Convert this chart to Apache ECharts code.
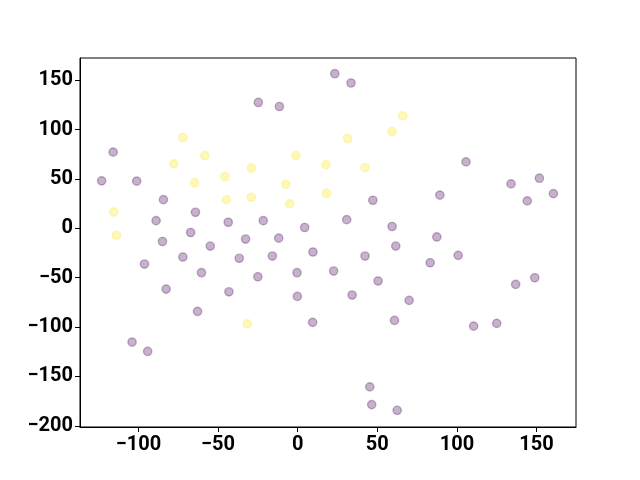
<!DOCTYPE html>
<html>
<head>
<meta charset="utf-8">
<script src="https://cdn.jsdelivr.net/npm/echarts@6/dist/echarts.min.js"></script>
<style>
  html, body { margin: 0; padding: 0; background: #fff; }
  #chart { width: 640px; height: 480px; }
</style>
</head>
<body>
<div id="chart"></div>
<script>
// class 0 points (dark purple)
const purplePoints = [
    [-115.9, 77.1], [-123.1, 48.0], [-101.1, 47.7], [-84.3, 29.0], [-88.9, 7.7],
    [-84.9, -13.4], [-96.2, -36.2], [-82.6, -61.6], [-104.0, -115.3], [-94.2, -124.7],
    [-64.2, 16.2], [-67.2, -4.3], [-72.1, -29.1], [-60.4, -45.0], [-62.9, -84.2],
    [-54.9, -18.0], [-43.6, 6.1], [-43.2, -64.3], [-36.7, -30.4], [-32.7, -10.9],
    [-24.7, 127.4], [-25.0, -49.1], [-21.6, 7.7], [-11.5, 123.3], [-11.9, -10.0],
    [-15.9, -28.1], [-0.4, -45.0], [-0.2, -69.0], [4.4, 0.8], [9.6, -24.0],
    [9.4, -95.3], [22.6, -43.3], [23.3, 156.5], [33.5, 147.1], [30.8, 8.7],
    [34.2, -67.6], [42.3, -28.1], [47.2, 28.4], [50.5, -53.4], [45.3, -160.6],
    [46.5, -178.5], [62.5, -184.3], [59.3, 1.8], [61.6, -18.0], [60.8, -93.3],
    [70.0, -73.0], [83.2, -34.9], [87.4, -8.8], [89.3, 33.5], [105.7, 67.2],
    [100.8, -27.4], [110.5, -99.1], [125.0, -96.3], [134.0, 44.9], [144.2, 27.7],
    [151.8, 50.7], [160.6, 35.1], [148.9, -50.1], [136.9, -56.8]
];

// class 1 points (yellow)
const yellowPoints = [
    [-72.1, 91.9], [-58.3, 73.6], [-77.8, 65.2], [-64.8, 45.9], [-45.7, 52.3],
    [-44.7, 28.7], [-29.1, 60.9], [-29.1, 31.4], [-115.5, 16.5], [-113.8, -7.1],
    [-31.6, -96.8], [66.0, 113.9], [59.3, 98.0], [31.4, 90.9], [-1.1, 73.6],
    [17.8, 64.5], [42.3, 61.5], [-7.4, 44.6], [-5.0, 24.9], [18.1, 35.5]
];

const xTicks = [-100, -50, 0, 50, 100, 150];
const yTicks = [-200, -150, -100, -50, 0, 50, 100, 150];

const chart = echarts.init(document.getElementById('chart'), null, { renderer: 'canvas' });

function fmt(v) {
    return String(v).replace('-', '\u2212');
}

const axisCommon = {
    type: 'value',
    scale: true,
    splitLine: { show: false },
    axisLine: { show: true, onZero: false, lineStyle: { color: '#000', width: 1 } },
    axisTick: { show: true, inside: false, length: 5, lineStyle: { color: '#000', width: 1 } },
    axisLabel: {
        color: '#000',
        fontFamily: 'Roboto',
        fontWeight: 'bold',
        fontSize: 20,
        formatter: fmt
    }
};

function dotSeries(data, color) {
    return {
        type: 'scatter',
        data: data,
        symbol: 'circle',
        symbolSize: 8.3,
        itemStyle: {
            color: color,
            borderColor: color,
            borderWidth: 1.4,
            opacity: 0.3
        },
        emphasis: { disabled: true },
        animation: false
    };
}

chart.setOption({
    animation: false,
    grid: {
        left: 80,
        right: 64,
        top: 58,
        bottom: 53,
        containLabel: false,
        outerBoundsMode: 'none',
        show: true,
        borderColor: '#000',
        borderWidth: 1,
        backgroundColor: 'transparent'
    },
    xAxis: Object.assign({}, axisCommon, {
        min: -136.7,
        max: 174.8,
        axisTick: Object.assign({}, axisCommon.axisTick, { customValues: xTicks }),
        axisLabel: Object.assign({}, axisCommon.axisLabel, { margin: 8, customValues: xTicks })
    }),
    yAxis: Object.assign({}, axisCommon, {
        min: -201.2,
        max: 172.4,
        axisTick: Object.assign({}, axisCommon.axisTick, { customValues: yTicks }),
        axisLabel: Object.assign({}, axisCommon.axisLabel, { margin: 7, customValues: yTicks })
    }),
    series: [
        dotSeries(purplePoints, '#440154'),
        dotSeries(yellowPoints, '#fde725')
    ]
});
</script>
</body>
</html>
